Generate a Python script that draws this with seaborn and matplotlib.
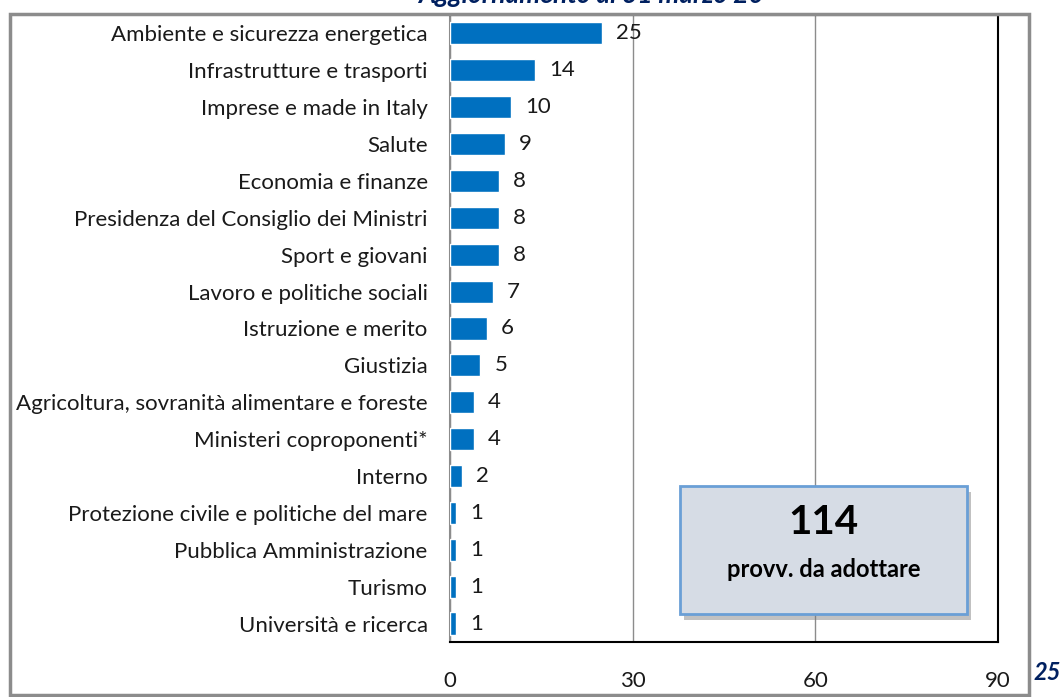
import matplotlib
matplotlib.use("Agg")
import matplotlib.pyplot as plt
import matplotlib.patheffects as pe
from matplotlib.patches import Rectangle
import pandas as pd
import seaborn as sns

ministeri = [
    "Ambiente e sicurezza energetica",
    "Infrastrutture e trasporti",
    "Imprese e made in Italy",
    "Salute",
    "Economia e finanze",
    "Presidenza del Consiglio dei Ministri",
    "Sport e giovani",
    "Lavoro e politiche sociali",
    "Istruzione e merito",
    "Giustizia",
    "Agricoltura, sovranità alimentare e foreste",
    "Ministeri coproponenti*",
    "Interno",
    "Protezione civile e politiche del mare",
    "Pubblica Amministrazione",
    "Turismo",
    "Università e ricerca",
]
provvedimenti = [25, 14, 10, 9, 8, 8, 8, 7, 6, 5, 4, 4, 2, 1, 1, 1, 1]
totale = 114
x_ticks = [0, 30, 60, 90]

df = pd.DataFrame({"ministero": ministeri, "n": provvedimenti})

sns.set_style("white")
plt.rcParams["font.family"] = ["Lato", "DejaVu Sans"]

fig = plt.figure(figsize=(10.62, 6.97), dpi=100)
ax = fig.add_axes([0.4237, 0.0789, 0.516, 0.8996])

# cornice esterna grigia
fig.patches.append(Rectangle((0.0094, 0.003), 0.9595, 0.977, transform=fig.transFigure,
                             fill=False, edgecolor="#8c8c8c", linewidth=2.5, zorder=0))

sns.barplot(data=df, x="n", y="ministero", orient="h", color="#0070C0",
            width=0.6, saturation=1, ax=ax, zorder=3)

ax.bar_label(ax.containers[0], padding=10, fontsize=16, color="#1a1a1a")

ax.set_xlim(0, 90)
ax.set_ylim(len(ministeri) - 0.5, -0.5)
ax.set_xticks(x_ticks)
ax.set_xticklabels([str(t) for t in x_ticks], fontsize=16, color="#1a1a1a")
ax.tick_params(axis="x", length=0, pad=21)
ax.tick_params(axis="y", which="major", length=0, pad=16, labelsize=16, labelcolor="#1a1a1a")
ax.set_yticks([i + 0.5 for i in range(len(ministeri))], minor=True)
ax.tick_params(axis="y", which="minor", length=8, color="#8c8c8c", width=1.2)
ax.set_xlabel("")
ax.set_ylabel("")

ax.grid(axis="x", color="#8c8c8c", linewidth=1, zorder=0)
ax.set_axisbelow(True)
for side in ["top", "right", "bottom"]:
    ax.spines[side].set_color("black")
    ax.spines[side].set_linewidth(1.5)
ax.spines["left"].set_color("#8c8c8c")
ax.spines["left"].set_linewidth(1.5)

# riquadro totale
box = Rectangle((0.4197, 0.0447), 0.5237, 0.2041, transform=ax.transAxes,
                facecolor="#D6DCE5", edgecolor="#6A9FD6", linewidth=2, zorder=5,
                path_effects=[pe.withSimplePatchShadow(offset=(3, -4), shadow_rgbFace="#777777", alpha=0.45)])
ax.add_patch(box)
ax.text(0.6815, 0.191, str(totale), transform=ax.transAxes, ha="center", va="center",
        fontsize=29, fontweight="bold", color="black", zorder=6)
ax.text(0.6815, 0.116, "provv. da adottare", transform=ax.transAxes, ha="center", va="center",
        fontsize=17, fontweight="bold", color="black", zorder=6)

fig.text(0.556, 0.99, "Aggiornamento al 31 marzo 20", ha="center", va="bottom",
         fontsize=19, fontweight="bold", fontstyle="italic", color="#002060")
fig.text(0.999, 0.018, "25", ha="right", va="bottom", fontsize=17,
         fontweight="bold", fontstyle="italic", color="#002060")

fig.savefig("out.png", dpi=100)
